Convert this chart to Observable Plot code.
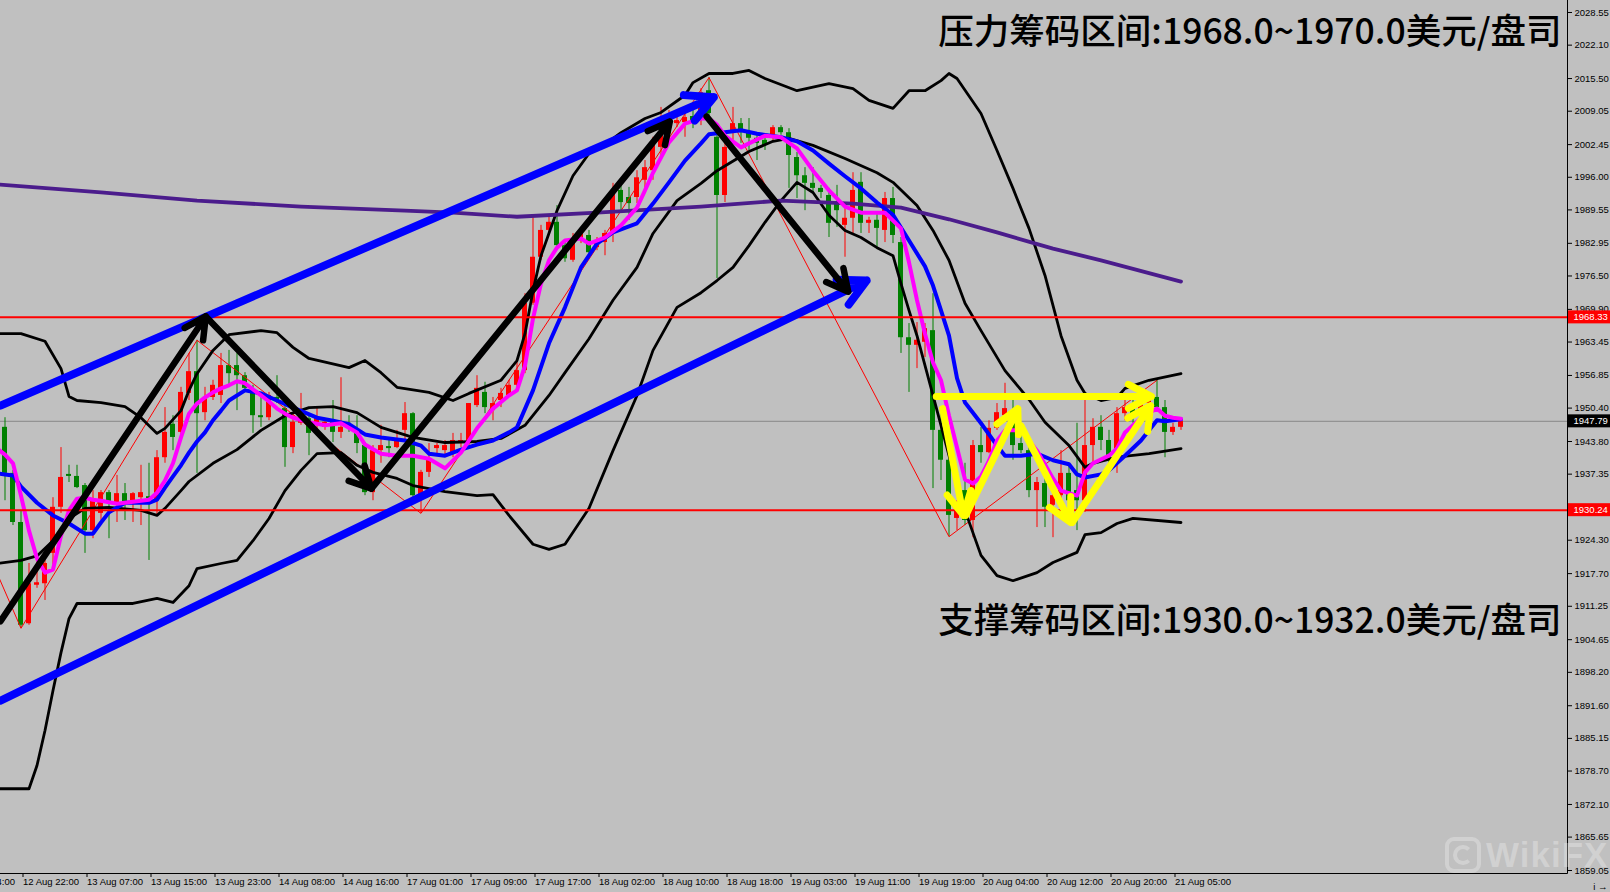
<!DOCTYPE html>
<html><head><meta charset="utf-8">
<script src="https://cdn.jsdelivr.net/npm/d3@7"></script>
<script src="https://cdn.jsdelivr.net/npm/@observablehq/plot@0.6"></script>
<style>
html,body{margin:0;padding:0;background:#c0c0c0;}
#wrap{position:relative;width:1610px;height:892px;overflow:hidden;background:#c0c0c0;}
#wm{position:absolute;left:1445px;top:835px;display:flex;align-items:center;gap:5px;pointer-events:none;}
#wm .logo{width:28px;height:28px;border:4px solid rgba(255,255,255,0.28);border-radius:9px;display:flex;align-items:center;justify-content:center;}
#wm .logo span{width:12px;height:12px;border:4px solid rgba(255,255,255,0.28);border-radius:50%;border-right-color:transparent;}
#wm .txt{font-family:'Liberation Sans',Arial,sans-serif;font-weight:bold;font-size:35px;color:rgba(255,255,255,0.28);letter-spacing:1px;}
</style></head>
<body><div id="wrap"><div id="wm"><div class="logo"><span></span></div><div class="txt">WikiFX</div></div></div>
<script>
// ---- candles (hourly XAUUSD), bar index 0..147 ----
const open = [1946.6,1937.5,1927.8,1907.8,1915.4,1915.7,1921.7,1930.8,1937.3,1936.9,
1935.1,1926.2,1929.6,1933.7,1931.6,1933.5,1931.6,1932.7,1932.9,1932.1,
1940.6,1947.2,1945.6,1953.3,1957.6,1949.5,1952.5,1952.9,1958.8,1958.8,
1956.8,1953.3,1948.9,1948.5,1952.5,1950.3,1942.6,1947.4,1948.3,1947.4,
1946.6,1947.9,1945.6,1947.4,1945.6,1943.0,1933.7,1942.0,1942.8,1942.6,
1946.0,1949.3,1932.7,1937.7,1942.4,1942.0,1941.4,1943.4,1943.4,1950.9,
1953.5,1949.9,1951.9,1952.9,1954.9,1957.8,1971.1,1980.2,1985.5,1987.1,
1982.5,1979.6,1983.5,1984.5,1982.1,1983.1,1984.9,1993.4,1992.0,1992.0,
1995.4,1997.3,2001.9,2004.6,2006.6,2006.8,2008.0,2007.6,2013.1,2003.9,
1992.4,2005.2,2006.6,2004.8,2003.7,2003.3,2004.3,2005.8,2004.8,1999.9,
1996.3,1994.8,1993.8,1992.4,1990.8,1986.5,1987.9,1995.0,1986.9,1987.5,
1985.5,1991.8,1983.1,1964.3,1962.8,1963.4,1965.7,1946.0,1940.1,1928.6,
1934.1,1928.2,1943.0,1941.6,1946.4,1948.9,1949.5,1943.4,1942.0,1934.1,
1935.5,1931.2,1933.1,1937.5,1934.1,1932.1,1943.0,1946.6,1944.0,1941.6,
1949.3,1950.9,1949.9,1951.3,1952.5,1950.5,1945.6,1946.6];
const high = [1948.5,1938.1,1930.2,1919.7,1920.3,1920.3,1932.7,1942.6,1939.1,1939.1,
1935.5,1934.1,1934.1,1934.1,1937.1,1935.5,1933.7,1939.1,1939.5,1942.0,
1950.5,1948.9,1954.5,1961.2,1963.8,1954.5,1955.9,1961.2,1961.8,1961.2,
1957.4,1954.9,1952.5,1953.5,1956.8,1951.3,1949.3,1953.3,1948.9,1950.5,
1948.3,1951.9,1956.4,1948.9,1948.9,1943.6,1943.0,1947.0,1944.6,1946.0,
1951.5,1949.5,1938.1,1943.4,1943.4,1944.0,1945.4,1945.4,1951.3,1956.8,
1955.5,1952.5,1954.3,1955.9,1959.8,1973.0,1988.5,1986.5,1988.1,1990.4,
1983.5,1984.9,1985.5,1985.5,1984.1,1985.5,1994.8,1994.4,1994.0,1997.3,
1999.3,2003.9,2009.8,2009.2,2008.2,2008.6,2009.2,2013.5,2015.7,2004.3,
2002.7,2009.8,2007.6,2007.6,2004.8,2004.3,2006.2,2006.2,2005.6,2000.9,
1997.9,1997.9,1994.4,1993.8,1994.4,1989.8,1996.9,1996.9,1988.1,1988.8,
1993.0,1994.0,1984.1,1967.1,1967.3,1967.1,1973.0,1949.9,1941.0,1932.1,
1939.5,1944.0,1946.6,1947.9,1951.3,1955.3,1951.9,1946.6,1942.6,1936.7,
1936.7,1933.7,1942.0,1939.1,1947.4,1953.3,1948.3,1948.9,1946.0,1950.5,
1953.3,1951.9,1952.9,1953.3,1955.9,1951.9,1947.4,1948.5];
const low = [1932.1,1927.2,1906.9,1907.5,1914.8,1912.4,1918.9,1929.6,1935.7,1934.5,
1921.7,1924.6,1928.2,1924.6,1927.8,1928.2,1927.8,1927.2,1920.3,1929.2,
1939.5,1942.0,1944.0,1951.9,1937.5,1947.9,1951.9,1951.3,1954.5,1949.9,
1953.5,1945.4,1946.6,1947.9,1951.3,1938.7,1941.4,1947.0,1941.0,1945.6,
1946.0,1943.6,1944.4,1945.6,1941.4,1933.1,1932.1,1939.5,1940.6,1942.4,
1944.0,1932.7,1929.6,1936.7,1941.4,1941.0,1940.6,1942.6,1943.0,1950.5,
1949.3,1947.9,1950.5,1952.5,1954.3,1957.2,1970.7,1979.6,1984.9,1982.1,
1979.2,1979.2,1982.9,1980.5,1981.5,1980.5,1983.1,1989.4,1987.5,1990.8,
1993.4,1995.4,1999.3,2003.3,2005.8,2003.9,2005.6,2006.2,2007.6,1976.0,
1991.0,2003.3,2002.7,2001.3,1999.3,2001.3,2002.9,2004.3,1993.8,1991.8,
1989.4,1992.8,1991.8,1984.1,1986.1,1980.2,1984.9,1984.9,1984.9,1982.1,
1983.1,1982.9,1961.2,1953.5,1958.2,1960.4,1934.5,1936.1,1925.0,1926.2,
1927.2,1924.8,1939.5,1941.4,1946.0,1947.9,1940.1,1941.4,1932.7,1926.8,
1926.8,1924.8,1932.1,1928.8,1926.2,1929.8,1939.5,1942.0,1939.5,1937.5,
1947.9,1947.4,1948.9,1949.3,1949.9,1940.6,1945.0,1946.0];
const close = [1937.5,1927.8,1907.5,1915.7,1915.9,1919.7,1930.8,1936.7,1936.9,1934.7,
1926.2,1932.1,1933.7,1931.6,1933.5,1931.8,1933.5,1933.7,1932.1,1940.6,
1945.6,1944.6,1953.5,1957.6,1949.3,1952.5,1954.9,1958.8,1957.2,1956.8,
1954.3,1948.9,1948.5,1952.9,1951.9,1942.6,1947.6,1948.9,1945.4,1948.5,
1947.6,1945.6,1946.6,1946.4,1943.4,1933.7,1942.0,1943.0,1942.4,1944.0,
1949.3,1933.1,1937.7,1940.1,1943.0,1943.0,1944.0,1944.0,1951.3,1954.3,
1950.5,1951.3,1953.3,1954.9,1957.8,1971.1,1980.2,1985.5,1987.1,1982.5,
1979.9,1983.1,1984.9,1981.1,1983.5,1984.9,1992.8,1991.0,1990.8,1995.9,
1997.9,2002.7,2004.8,2006.8,2007.2,2007.8,2007.2,2012.7,2008.6,1992.4,
2001.9,2006.6,2004.8,2003.7,2002.7,2002.3,2005.8,2004.8,2000.3,1996.3,
1994.8,1993.8,1993.0,1986.9,1989.4,1987.9,1993.4,1986.9,1987.5,1985.9,
1991.8,1984.5,1964.3,1962.8,1963.8,1966.1,1946.0,1940.1,1929.2,1930.6,
1928.2,1943.0,1941.6,1946.4,1949.5,1950.3,1943.0,1942.0,1934.1,1935.7,
1930.8,1933.1,1937.5,1932.1,1932.1,1943.0,1946.6,1944.0,1940.1,1949.3,
1950.5,1948.5,1951.5,1952.3,1950.5,1945.6,1946.6,1947.79];

// ---- indicators: [bar, price] ----
const ma200 = [[-1,1994.6],[12,1993.0],[24,1991.4],[37,1990.2],[50,1989.4],[56,1989.0],[64,1988.2],[74,1989.0],[87,1990.2],[97,1991.4],[106,1990.8],[112,1990.0],[118,1987.7],[124,1985.1],[131,1981.9],[137,1979.6],[147,1975.4]];
const maFast = [[-1,1942.4],[0,1941.2],[1,1939.5],[2,1933.1],[3,1926.2],[4,1920.7],[5,1917.9],[6,1918.5],[7,1925.2],[8,1930.2],[9,1932.5],[10,1932.7],[11,1932.3],[12,1932.1],[14,1931.5],[17,1932.1],[18,1932.3],[19,1933.7],[20,1936.1],[21,1939.5],[22,1944.6],[23,1949.3],[24,1951.3],[25,1952.5],[26,1953.5],[27,1954.3],[28,1954.9],[29,1955.7],[30,1955.3],[31,1954.1],[32,1952.9],[33,1951.7],[34,1950.3],[35,1949.3],[36,1948.5],[38,1947.6],[40,1947.0],[42,1947.4],[44,1945.6],[45,1943.2],[47,1941.4],[49,1941.0],[51,1941.0],[53,1940.4],[55,1938.5],[57,1941.6],[59,1946.4],[61,1950.3],[63,1952.9],[64,1953.9],[65,1958.8],[66,1968.1],[67,1975.0],[68,1979.6],[69,1982.1],[70,1983.5],[72,1983.9],[73,1982.9],[75,1984.1],[77,1986.5],[79,1990.0],[80,1993.4],[81,1996.9],[83,2002.9],[85,2006.6],[87,2007.6],[88,2007.6],[89,2006.4],[90,2004.2],[92,2001.9],[93,2002.7],[95,2004.2],[97,2003.9],[99,2001.7],[101,1997.3],[103,1993.4],[105,1990.2],[107,1989.0],[110,1989.0],[112,1985.9],[113,1979.2],[114,1971.7],[115,1965.1],[116,1959.4],[117,1955.9],[118,1948.9],[119,1942.6],[120,1936.3],[121,1935.5],[122,1936.9],[123,1940.0],[124,1944.0],[125,1946.0],[127,1946.0],[129,1942.0],[131,1936.5],[132,1934.1],[134,1933.1],[135,1937.7],[136,1939.5],[138,1941.0],[139,1942.4],[140,1945.6],[141,1947.0],[142,1948.4],[143,1949.5],[144,1950.3],[145,1948.9],[146,1948.5],[147,1948.3]];
const maSlow = [[-1,1937.5],[0,1937.3],[1,1937.1],[2,1934.9],[4,1931.7],[6,1929.2],[8,1927.6],[10,1925.6],[11,1925.6],[12,1927.8],[13,1929.8],[15,1931.7],[18,1931.7],[19,1932.3],[20,1934.7],[21,1936.9],[22,1939.1],[23,1941.6],[24,1943.8],[25,1945.6],[26,1948.0],[27,1949.9],[28,1951.9],[30,1953.9],[32,1953.3],[34,1951.9],[36,1950.5],[39,1948.5],[41,1947.9],[43,1947.2],[45,1945.2],[47,1944.6],[50,1944.0],[52,1943.0],[53,1941.4],[55,1941.0],[57,1942.2],[59,1943.2],[61,1944.0],[63,1945.6],[64,1946.6],[66,1953.9],[68,1963.2],[70,1970.3],[72,1978.2],[74,1982.9],[76,1985.1],[78,1986.3],[79,1986.9],[81,1990.8],[83,1995.0],[85,1999.3],[87,2002.7],[88,2004.5],[90,2004.9],[92,2005.3],[94,2004.6],[97,2003.9],[99,2003.1],[101,2001.3],[103,1998.7],[105,1996.2],[107,1993.8],[109,1991.0],[111,1988.6],[113,1983.5],[115,1978.4],[116,1974.6],[117,1969.7],[118,1964.7],[119,1956.3],[120,1951.5],[122,1947.4],[124,1943.0],[125,1941.0],[127,1941.0],[129,1941.4],[131,1940.1],[133,1939.3],[134,1937.3],[135,1936.7],[137,1937.3],[138,1938.1],[140,1941.0],[142,1944.0],[144,1948.0],[145,1947.8],[147,1948.2]];
const bbUpper = [[-1,1965.1],[2,1965.1],[5,1963.6],[7,1958.2],[8,1952.7],[9,1951.9],[12,1951.5],[15,1950.7],[17,1948.5],[19,1945.4],[20,1946.4],[22,1949.9],[23,1953.9],[24,1957.2],[26,1961.8],[28,1964.9],[32,1965.7],[34,1965.3],[36,1962.4],[38,1960.2],[43,1958.4],[45,1959.8],[47,1957.4],[49,1954.5],[53,1953.5],[56,1951.9],[58,1953.3],[62,1955.9],[64,1959.8],[65,1965.1],[66,1973.6],[67,1980.5],[69,1989.4],[71,1996.3],[73,2000.7],[75,2002.5],[77,2004.8],[80,2007.6],[82,2008.8],[85,2012.2],[86,2014.7],[88,2016.5],[91,2016.5],[93,2017.1],[95,2015.5],[99,2013.1],[103,2014.5],[106,2013.5],[108,2011.2],[111,2009.6],[113,2013.1],[115,2013.1],[117,2015.1],[118,2016.5],[119,2015.5],[122,2008.6],[124,2001.3],[126,1993.8],[128,1985.9],[130,1976.6],[132,1964.7],[134,1955.9],[135,1953.3],[137,1951.9],[139,1952.5],[140,1954.3],[143,1955.9],[147,1957.2]];
const bbMid = [[-1,1919.7],[2,1920.3],[4,1921.2],[6,1924.2],[8,1928.6],[10,1930.6],[13,1930.8],[17,1930.2],[19,1929.2],[20,1930.6],[22,1934.1],[23,1935.9],[26,1939.5],[29,1942.2],[32,1946.0],[35,1948.9],[38,1950.5],[41,1950.7],[44,1949.5],[47,1946.6],[51,1944.6],[55,1943.6],[59,1943.8],[62,1944.4],[65,1947.0],[68,1952.9],[70,1957.4],[73,1964.1],[76,1971.7],[79,1978.2],[81,1984.9],[84,1991.4],[87,1994.8],[89,1997.3],[93,2001.1],[96,2003.1],[98,2003.7],[101,2002.3],[105,1999.7],[109,1996.9],[111,1995.0],[114,1990.4],[116,1985.5],[118,1979.6],[120,1971.1],[122,1965.7],[125,1957.8],[128,1952.1],[130,1947.6],[133,1943.0],[135,1938.7],[136,1939.5],[139,1940.7],[143,1941.4],[147,1942.4]];
const bbLower = [[-1,1875.2],[3,1875.2],[4,1879.8],[5,1886.7],[6,1894.6],[7,1902.1],[8,1908.8],[9,1911.8],[12,1911.8],[16,1911.8],[19,1912.8],[21,1912.0],[23,1915.3],[24,1918.7],[27,1919.7],[29,1920.3],[31,1924.2],[33,1928.6],[35,1934.1],[37,1938.1],[39,1941.4],[42,1941.6],[44,1939.1],[46,1937.7],[49,1936.5],[51,1935.1],[55,1933.9],[59,1933.1],[61,1933.3],[63,1929.2],[66,1923.5],[68,1922.5],[70,1923.5],[73,1930.6],[76,1942.0],[79,1952.9],[81,1961.8],[84,1970.3],[87,1973.2],[89,1975.6],[91,1978.2],[93,1982.5],[95,1987.1],[97,1991.4],[99,1995.0],[101,1993.0],[103,1988.5],[105,1985.5],[107,1984.1],[109,1982.1],[111,1980.5],[112,1975.0],[113,1969.7],[114,1964.7],[116,1952.9],[118,1941.0],[120,1930.2],[122,1921.3],[124,1917.3],[126,1916.3],[129,1917.9],[131,1919.9],[134,1921.9],[135,1925.4],[137,1925.8],[139,1927.6],[141,1928.6],[147,1927.8]];
const zigzag = [[-1,1917.8],[2,1906.9],[24,1963.8],[52,1929.6],[88,2015.7],[118,1925.0],[144,1955.9]];

// ---- drawn objects: [bar1, price1, bar2, price2] ----
const channelLines = [[-0.56,1950.9,88.6,2011.8],[-0.56,1892.6,107.7,1975.6]];
const waveArrows = [[-0.56,1908.3,25.1,1968.5],[25.1,1968.5,45.8,1934.5],[45.8,1934.5,83.1,2007.0],[87.7,2008.0,105.4,1973.4]];
const patternArrows = [[116.4,1952.7,143.3,1952.7],[117.2,1950.3,119.8,1929.2],[120.1,1929.2,126.6,1950.3],[127.0,1946.9,133.2,1927.8],[133.4,1927.8,143.2,1950.9]];
const levels = [1968.33, 1930.24];
const notes = [
  {label: "压力筹码区间:1968.0~1970.0美元/盘司", price: 2024.6},
  {label: "支撑筹码区间:1930.0~1932.0美元/盘司", price: 1908.2}
];

// ---- axes ----
const yTicks = [2028.55,2022.10,2015.50,2009.05,2002.45,1996.00,1989.55,1982.95,1976.50,1969.90,1963.45,1956.85,1950.40,1943.80,1937.35,1930.75,1924.30,1917.70,1911.25,1904.65,1898.20,1891.60,1885.15,1878.70,1872.10,1865.65,1859.05];
const timeBars = [-6,2,10,18,26,34,42,50,58,66,74,82,90,98,106,114,122,130,138,146];
const timeLabels = ["12 Aug 14:00","12 Aug 22:00","13 Aug 07:00","13 Aug 15:00","13 Aug 23:00","14 Aug 08:00","14 Aug 16:00","17 Aug 01:00","17 Aug 09:00","17 Aug 17:00","18 Aug 02:00","18 Aug 10:00","18 Aug 18:00","19 Aug 03:00","19 Aug 11:00","19 Aug 19:00","20 Aug 04:00","20 Aug 12:00","20 Aug 20:00","21 Aug 05:00"];
const xView = [-0.5625, 195.3125];
const yView = [1858.46, 2030.92];

const RED = "#ff0000", GREEN = "#008000";
const candles = open.map((o, i) => ({i, o, h: high[i], l: low[i], c: close[i]}));
const bid = close[close.length - 1];
const priceTags = [{v: levels[0], bg: RED}, {v: levels[1], bg: RED}, {v: bid, bg: "#000000"}];

const lineOpts = (stroke, w) => ({x: d => d[0], y: d => d[1], stroke, strokeWidth: w, clip: true, strokeLinejoin: "round", strokeLinecap: "round"});
// Plot scales headLength by strokeWidth / 1.5
const arrowOpts = (stroke, w, headPx) => ({x1: d => d[0], y1: d => d[1], x2: d => d[2], y2: d => d[3], stroke, strokeWidth: w, headLength: headPx * 1.5 / w, headAngle: 55, strokeLinecap: "round", strokeLinejoin: "round", clip: true});

const plot = Plot.plot({
  width: 1610, height: 892,
  marginLeft: 0, marginRight: 43, marginTop: 0, marginBottom: 19,
  style: {background: "#c0c0c0", fontFamily: "'Liberation Sans', Arial, sans-serif", fontSize: "9.5px", color: "black", overflow: "hidden"},
  x: {type: "linear", domain: xView, axis: null},
  y: {type: "linear", domain: yView, axis: null},
  marks: [
    Plot.ruleY([bid], {stroke: "#878787", strokeWidth: 1}),
    Plot.ruleX(candles, {x: "i", y1: "l", y2: "h", stroke: d => d.c > d.o ? RED : GREEN, strokeWidth: 1}),
    Plot.rect(candles, {x1: d => d.i - 0.3125, x2: d => d.i + 0.3125, y1: "o", y2: "c", fill: d => d.c > d.o ? RED : GREEN}),
    Plot.line(zigzag, lineOpts(RED, 1)),
    Plot.line(bbUpper, lineOpts("#000000", 2.8)),
    Plot.line(bbMid, lineOpts("#000000", 2.8)),
    Plot.line(bbLower, lineOpts("#000000", 2.8)),
    Plot.line(ma200, lineOpts("#4b1c8c", 3.8)),
    Plot.line(maSlow, lineOpts("#0000ff", 4)),
    Plot.line(maFast, lineOpts("#ff00ff", 4)),
    Plot.ruleY(levels, {stroke: RED, strokeWidth: 2}),
    Plot.arrow(channelLines, arrowOpts("#0000ff", 8, 30)),
    Plot.arrow(waveArrows, arrowOpts("#000000", 6.5, 24)),
    Plot.arrow(patternArrows, arrowOpts("#ffff00", 7, 26)),
    Plot.text(notes, {y: "price", text: "label", frameAnchor: "right", dx: -6, textAnchor: "end", lineAnchor: "middle", fontSize: 35.5, fontWeight: 500, fontFamily: "'Noto Sans CJK SC', sans-serif", fill: "#000000"}),
    Plot.axisY({anchor: "right", ticks: yTicks, tickFormat: d => d.toFixed(2), tickSize: 4, tickPadding: 3, fontSize: 9.5}),
    Plot.axisX({anchor: "bottom", ticks: timeBars, tickFormat: d => timeLabels[timeBars.indexOf(d)], tickSize: 4, tickPadding: 1, textAnchor: "start", dx: 2, fontSize: 9.5}),
    Plot.text(priceTags, {y: "v", text: d => d.v.toFixed(2), frameAnchor: "right", dx: 6, textAnchor: "start", fill: "#ffffff", fontSize: 9.5, className: "ptag"})
  ]
});
const wrap = document.getElementById("wrap");
wrap.insertBefore(plot, wrap.firstChild);

// frame lines (right and bottom edge of the chart window) and price tag boxes
const svg = d3.select(plot);
const xr = plot.scale("x").range, yr = plot.scale("y").range;
const xEdge = Math.max(...xr) + 0.5, yEdge = Math.max(...yr) + 0.5;
svg.append("line").attr("x1", xEdge).attr("x2", xEdge).attr("y1", 0).attr("y2", yEdge).attr("stroke", "#000").attr("stroke-width", 1);
svg.append("line").attr("x1", 0).attr("x2", xEdge).attr("y1", yEdge).attr("y2", yEdge).attr("stroke", "#000").attr("stroke-width", 1);
const svgBox = plot.getBoundingClientRect();
const tagGroup = plot.querySelector("g.ptag");
if (tagGroup) {
  const bg = document.createElementNS("http://www.w3.org/2000/svg", "g");
  tagGroup.parentNode.insertBefore(bg, tagGroup);
  tagGroup.querySelectorAll("text").forEach((t, k) => {
    const b = t.getBoundingClientRect();
    const r = document.createElementNS("http://www.w3.org/2000/svg", "rect");
    r.setAttribute("x", xEdge);
    r.setAttribute("width", 1610 - xEdge);
    r.setAttribute("y", b.top - svgBox.top - 1);
    r.setAttribute("height", b.height + 2);
    r.setAttribute("fill", priceTags[k].bg);
    bg.appendChild(r);
  });
}
</script>
</body></html>
